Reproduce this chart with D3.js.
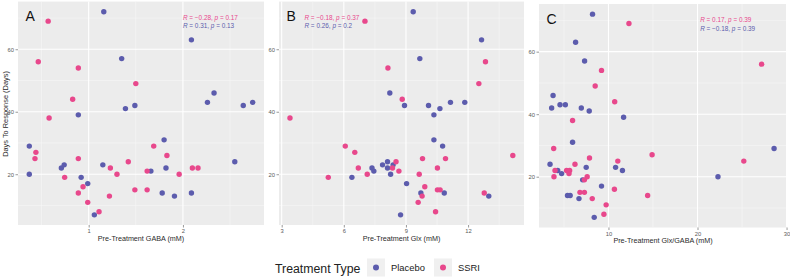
<!DOCTYPE html>
<html>
<head>
<meta charset="utf-8">
<script src="https://cdn.jsdelivr.net/npm/d3@7"></script>
<style>
  html, body { margin: 0; padding: 0; background: #ffffff; }
  svg { display: block; font-family: "Liberation Sans", Arial, Helvetica, sans-serif; }
</style>
</head>
<body>
<svg id="chart" width="790" height="280"></svg>
<script>
// ---------- DATA ----------
const seriesNames = ["Placebo", "SSRI"];
const yTicks = [20, 40, 60];
const yDomain = [3.75, 75.25];

// Panel A: Pre-Treatment GABA (mM) vs Days To Response
const gabaPlacebo = [[1.16,72],[2.09,63],[1.35,57],[2.33,46],[2.26,43],[2.74,43],[1.39,41],[1.49,42],[2.64,42],[0.89,39],[0.37,29],[0.37,20],[0.71,22],[0.74,23],[0.92,19],[0.99,17],[1.06,7],[1.15,23],[1.80,31],[1.66,21],[1.82,22],[1.78,14],[1.91,13],[2.09,14],[2.55,24]];
const gabaSSRI = [[0.57,69],[0.465,56],[0.89,54],[1.50,49],[0.83,44],[0.58,38],[0.44,27],[0.43,25],[0.745,19],[0.89,25],[0.94,16],[0.89,14],[0.99,11],[1.11,8],[1.23,22],[1.22,13],[1.30,20],[1.42,24],[1.49,15],[1.69,29],[1.83,26],[1.62,21],[1.62,15],[1.96,20],[2.10,22],[2.16,22]];
const gabaTicks = [1, 2];

// Panel B: Pre-Treatment Glx (mM)
const glxPlacebo = [[9.35,72],[12.65,63],[9.67,57],[8.22,46],[8.93,42],[10.09,42],[10.64,41],[11.15,43],[11.84,43],[10.35,39],[10.35,31],[10.77,29],[6.39,19],[7.36,22],[7.45,21],[7.87,23],[8.11,24],[8.11,22],[8.26,20],[8.38,23],[9.03,17],[8.74,7],[9.72,14],[10.85,14],[13.0,13]];
const glxSSRI = [[7.02,69],[12.84,56],[8.13,54],[12.52,49],[8.82,44],[3.4,38],[6.07,29],[6.53,27],[9.8,25],[10.91,25],[14.16,26],[5.25,19],[6.70,22],[7.13,20],[8.35,22],[8.52,24],[8.66,21],[9.64,20],[9.78,13],[9.59,11],[9.91,16],[10.52,22],[10.52,15],[10.65,15],[10.43,8],[12.78,14]];
const glxTicks = [3, 6, 9, 12];

// Panel C: Pre-Treatment Glx/GABA (mM)
const ratioPlacebo = [[8.21,72],[6.31,63],[7.32,57],[3.78,46],[3.62,42],[4.56,43],[5.16,43],[6.95,42],[7.84,41],[11.7,39],[5.97,31],[3.44,24],[4.3,22],[4.74,21],[7.5,23],[5.4,14],[5.7,14],[6.69,13],[9.22,17],[8.4,7],[10.8,23],[11.57,22],[22.3,20],[28.6,29],[7.1,19]];
const ratioSSRI = [[12.3,69],[27.2,56],[9.22,54],[8.51,49],[10.7,44],[5.97,38],[3.85,29],[4.0,22],[3.88,20],[5.3,22],[5.64,22],[5.57,21],[6.24,24],[7.87,26],[7.61,20],[7.3,19],[6.8,15],[7.3,15],[8.18,13],[9.74,11],[9.49,8],[11.05,25],[10.67,16],[14.4,14],[14.9,27],[25.2,25]];
const ratioTicks = [10, 20, 30];

// Correlation labels [R, p] : SSRI first, then Placebo
const corA = [["−0.28", "0.17"], ["0.31", "0.13"]];
const corB = [["−0.18", "0.37"], ["0.26", "0.2"]];
const corC = [["0.17", "0.39"], ["−0.18", "0.39"]];

const panelLetters = ["A", "B", "C"];
const xTitles = ["Pre-Treatment GABA (mM)", "Pre-Treatment Glx (mM)", "Pre-Treatment Glx/GABA (mM)"];
const yTitle = "Days To Response (Days)";
const legendTitle = "Treatment Type";

// ---------- STYLE / LAYOUT ----------
const colors = { Placebo: "#5c5cad", SSRI: "#e8488c" };
const panelBg = "#ececec";

const panels = [
  { letter: panelLetters[0], title: xTitles[0], placebo: gabaPlacebo, ssri: gabaSSRI, ticks: gabaTicks,
    domain: [0.25, 2.86], left: 18, right: 264, top: 1.6, bottom: 225, cor: corA, corX: 2.0 },
  { letter: panelLetters[1], title: xTitles[1], placebo: glxPlacebo, ssri: glxSSRI, ticks: glxTicks,
    domain: [2.87, 14.7], left: 279, right: 524, top: 1.6, bottom: 225, cor: corB, corX: 4.1 },
  { letter: panelLetters[2], title: xTitles[2], placebo: ratioPlacebo, ssri: ratioSSRI, ticks: ratioTicks,
    domain: [2.2, 30.05], left: 539, right: 787, top: 4, bottom: 227.5, cor: corC, corX: 20.3 }
];

const svg = d3.select("#chart");

panels.forEach((p, i) => {
  const x = d3.scaleLinear().domain(p.domain).range([p.left, p.right]);
  const y = d3.scaleLinear().domain(yDomain).range([p.bottom, p.top]);
  const g = svg.append("g");

  // background
  g.append("rect").attr("x", p.left).attr("y", p.top)
    .attr("width", p.right - p.left).attr("height", p.bottom - p.top).attr("fill", panelBg);

  // minor gridlines
  const step = p.ticks[1] - p.ticks[0];
  const xMinor = [];
  for (let v = p.ticks[0] - step / 2; v <= p.domain[1]; v += step) if (v >= p.domain[0]) xMinor.push(v);
  const yMinor = [10, 30, 50, 70];
  g.selectAll(".xminor").data(xMinor).join("line")
    .attr("x1", d => x(d)).attr("x2", d => x(d)).attr("y1", p.top).attr("y2", p.bottom)
    .attr("stroke", "#f6f6f6").attr("stroke-width", 0.6);
  g.selectAll(".yminor").data(yMinor).join("line")
    .attr("y1", d => y(d)).attr("y2", d => y(d)).attr("x1", p.left).attr("x2", p.right)
    .attr("stroke", "#f6f6f6").attr("stroke-width", 0.6);

  // major gridlines
  const xMajor = p.ticks.filter(t => t >= p.domain[0] && t <= p.domain[1]);
  g.selectAll(".xmajor").data(xMajor).join("line")
    .attr("x1", d => x(d)).attr("x2", d => x(d)).attr("y1", p.top).attr("y2", p.bottom)
    .attr("stroke", "#ffffff").attr("stroke-width", 1.1);
  g.selectAll(".ymajor").data(yTicks).join("line")
    .attr("y1", d => y(d)).attr("y2", d => y(d)).attr("x1", p.left).attr("x2", p.right)
    .attr("stroke", "#ffffff").attr("stroke-width", 1.1);

  // axes
  const xAxis = d3.axisBottom(x).tickValues(xMajor).tickFormat(d3.format("d")).tickSize(2.5).tickPadding(1.5);
  const gx = g.append("g").attr("transform", `translate(0,${p.bottom})`).call(xAxis);
  const yAxis = d3.axisLeft(y).tickValues(yTicks).tickFormat(d3.format("d")).tickSize(2.5).tickPadding(1.5);
  const gy = g.append("g").attr("transform", `translate(${p.left},0)`).call(yAxis);
  [gx, gy].forEach(ax => {
    ax.select(".domain").remove();
    ax.selectAll(".tick line").attr("stroke", "#555").attr("stroke-width", 0.6);
    ax.selectAll(".tick text").attr("fill", "#5a5a5a").style("font-size", "5.8px")
      .style("font-family", "'Liberation Sans', Arial, sans-serif");
  });

  // x title
  g.append("text").attr("x", (p.left + p.right) / 2).attr("y", p.bottom + 15.5)
    .attr("text-anchor", "middle").attr("fill", "#2a2a2a").style("font-size", "7.2px")
    .text(p.title);

  // points: placebo, then SSRI
  const pts = [
    ...p.placebo.map(d => ({ x: d[0], y: d[1], s: "Placebo" })),
    ...p.ssri.map(d => ({ x: d[0], y: d[1], s: "SSRI" }))
  ];
  g.selectAll(".pt").data(pts).join("circle")
    .attr("cx", d => x(d.x)).attr("cy", d => y(d.y)).attr("r", 2.7)
    .attr("fill", d => colors[d.s]);

  // panel letter
  g.append("text").attr("x", p.left + 7.5).attr("y", p.top + 19.5)
    .attr("fill", "#111").style("font-size", "14px").text(p.letter);

  // correlation labels
  const corColors = [colors.SSRI, colors.Placebo];
  p.cor.forEach((c, k) => {
    const t = g.append("text").attr("x", x(p.corX)).attr("y", p.top + 18 + k * 8.8)
      .attr("fill", corColors[k]).style("font-size", "6.4px");
    t.append("tspan").style("font-style", "italic").text("R");
    t.append("tspan").text(" = " + c[0] + ", ");
    t.append("tspan").style("font-style", "italic").text("p");
    t.append("tspan").text(" = " + c[1]);
  });
});

// y title
svg.append("text").attr("transform", "translate(7.5,114) rotate(-90)")
  .attr("text-anchor", "middle").attr("fill", "#2a2a2a").style("font-size", "7.4px").text(yTitle);

// legend
const lg = svg.append("g");
lg.append("text").attr("x", 275).attr("y", 272.5).attr("fill", "#222")
  .style("font-size", "12.3px").text(legendTitle);
const keyX = [367, 434];
const labX = [391, 458];
seriesNames.forEach((s, i) => {
  lg.append("rect").attr("x", keyX[i]).attr("y", 258.5).attr("width", 18).attr("height", 18).attr("fill", "#f0f0f0");
  lg.append("circle").attr("cx", keyX[i] + 9).attr("cy", 267.5).attr("r", 3).attr("fill", colors[s]);
  lg.append("text").attr("x", labX[i]).attr("y", 271).attr("fill", "#222").style("font-size", "9.4px").text(s);
});
</script>
</body>
</html>
